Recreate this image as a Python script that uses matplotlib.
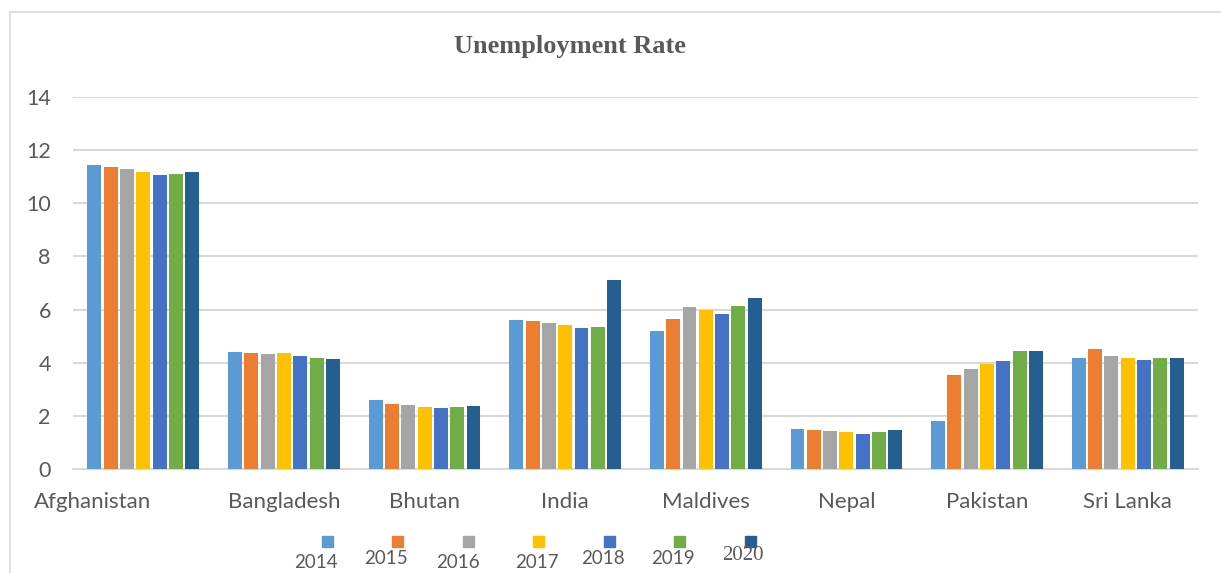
import numpy as np
import matplotlib.pyplot as plt
from matplotlib.lines import Line2D
from matplotlib.patches import Rectangle

countries = ["Afghanistan", "Bangladesh", "Bhutan", "India",
             "Maldives", "Nepal", "Pakistan", "Sri Lanka"]
years = ["2014", "2015", "2016", "2017", "2018", "2019", "2020"]

rate_2014 = [11.44, 4.41, 2.61, 5.61, 5.20, 1.52, 1.82, 4.19]
rate_2015 = [11.36, 4.37, 2.46, 5.58, 5.65, 1.48, 3.55, 4.52]
rate_2016 = [11.29, 4.34, 2.42, 5.50, 6.10, 1.44, 3.77, 4.26]
rate_2017 = [11.18, 4.37, 2.34, 5.43, 5.99, 1.40, 3.96, 4.19]
rate_2018 = [11.06, 4.26, 2.31, 5.31, 5.84, 1.33, 4.07, 4.11]
rate_2019 = [11.10, 4.18, 2.34, 5.35, 6.14, 1.40, 4.45, 4.19]
rate_2020 = [11.18, 4.15, 2.38, 7.12, 6.44, 1.48, 4.45, 4.19]
series = [rate_2014, rate_2015, rate_2016, rate_2017, rate_2018, rate_2019, rate_2020]

colors = ["#5b9bd5", "#ed7d31", "#a5a5a5", "#ffc000", "#4472c4", "#70ad47", "#255e91"]
grey = "#595959"

fig = plt.figure(figsize=(12.21, 5.73), dpi=100)
ax = fig.add_axes([73/1221, 1 - 469/573, (1198 - 73)/1221, (469 - 97)/573])

x = np.arange(len(countries))
slot = 0.116
width = 0.0995
for i, vals in enumerate(series):
    ax.bar(x + (i - 3) * slot, vals, width=width, color=colors[i], zorder=3)

ax.set_xlim(-0.5, len(countries) - 0.5)
ax.set_ylim(0, 14)
ax.set_yticks(np.arange(0, 15, 2))
ax.tick_params(axis="y", length=0, pad=16, labelsize=15.5, labelcolor=grey)
ax.tick_params(axis="x", length=0, labelbottom=False)
for lbl in ax.get_yticklabels():
    lbl.set_family("Lato")
ax.grid(axis="y", color="#d9d9d9", lw=1.5, zorder=0)
for s in ["top", "right", "left"]:
    ax.spines[s].set_visible(False)
ax.spines["bottom"].set_color("#d9d9d9")
ax.spines["bottom"].set_linewidth(1.5)

# category labels (Afghanistan sits left of its group in the original)
label_x = list(x.astype(float))
label_x[0] = -0.36
for lx, name in zip(label_x, countries):
    ax.text(lx, -0.088, name, transform=ax.get_xaxis_transform(), ha="center",
            va="center", fontsize=16, color=grey, family="Lato")

fig.text(570/1221, 1 - 46/573, "Unemployment Rate", ha="center", va="center",
         fontsize=19, fontweight="bold", color=grey, family="Liberation Serif")

# legend: squares with labels underneath
sq_x = [327, 397, 468, 538, 609, 679, 750]
lab_x = [316, 386, 458, 537, 603, 673, 743]
lab_y = [562, 559, 563, 562, 558, 559, 555]
for i, yr in enumerate(years):
    fig.add_artist(Rectangle(((sq_x[i] - 5.5)/1221, 1 - (541 + 5.5)/573), 11/1221, 11/573,
                             color=colors[i], transform=fig.transFigure))
    fam = "Liberation Serif" if yr == "2020" else "Lato"
    size = 15 if yr == "2020" else 13.5
    fig.text(lab_x[i]/1221, 1 - lab_y[i]/573, yr, ha="center", va="center",
             fontsize=size, color=grey, family=fam)

# chart border
fig.add_artist(Line2D([10/1221, 10/1221], [0, 1 - 12/573], color="#d9d9d9", lw=1.2))
fig.add_artist(Line2D([10/1221, 1], [1 - 12/573, 1 - 12/573], color="#d9d9d9", lw=1.2))

fig.savefig("out.png", dpi=100, facecolor="white")
